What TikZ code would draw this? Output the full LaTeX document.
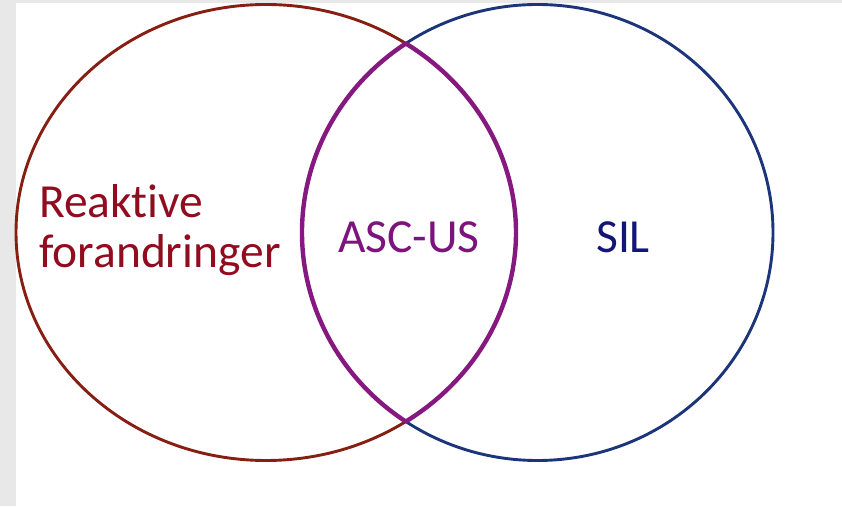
\documentclass[tikz,border=0pt]{standalone}
\usepackage{fontspec}
\setmainfont[Ligatures=NoCommon]{Carlito}
\definecolor{bggray}{RGB}{232,232,232}
\definecolor{leftc}{RGB}{135,30,18}
\definecolor{rightc}{RGB}{28,52,122}
\definecolor{lensc}{RGB}{133,25,128}
\definecolor{redtext}{RGB}{145,12,30}
\definecolor{purptext}{RGB}{125,20,125}
\definecolor{bluetext}{RGB}{20,22,118}
\tikzset{
  setring/.style={line width=2.9pt},
  lensline/.style={lensc, line width=4.4pt, line join=round},
  lbl/.style={inner sep=0pt, font=\fontsize{47.5}{50}\selectfont}
}
\begin{document}
\begin{tikzpicture}[x=1pt,y=1pt]
\useasboundingbox (0,0) rectangle (842,506);
\fill[bggray] (0,0) rectangle (842,506);
\fill[white] (16,0) rectangle (842,503);
% set outlines
\draw[setring, leftc] (266,273.5) ellipse [x radius=250pt, y radius=228pt];
\draw[setring, rightc] (537.5,273.5) ellipse [x radius=235.5pt, y radius=228pt];
% intersection lens
\draw[lensline] (405.8,462.5)
  arc[start angle=56, end angle=-56, x radius=250pt, y radius=228pt]
  arc[start angle=236, end angle=124, x radius=235.5pt, y radius=228pt] -- cycle;
% labels
\node[lbl, anchor=base west, text=redtext, align=left] (reak) at (39,238) {Reaktive\\forandringer};
\node[lbl, anchor=base west, text=purptext] (asc) at (338,253) {ASC-US};
\node[lbl, anchor=base west, text=bluetext] (sil) at (596,253) {SIL};
\end{tikzpicture}
\end{document}
